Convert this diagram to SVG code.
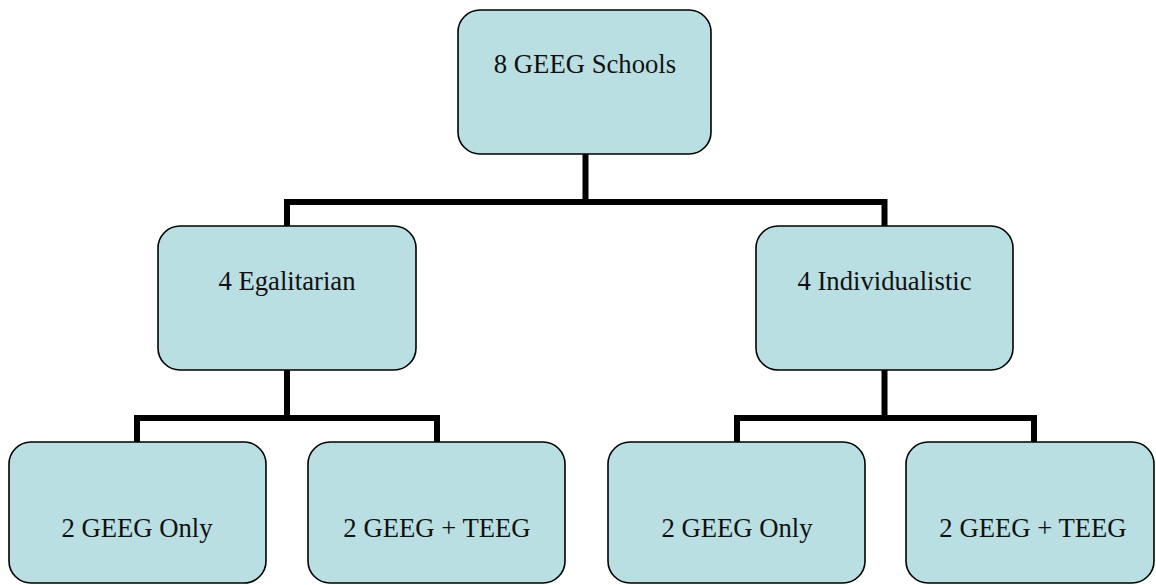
<svg xmlns="http://www.w3.org/2000/svg" width="1156" height="585" viewBox="0 0 1156 585">
<style>
.box{fill:#B9DFE3;stroke:#000;stroke-width:1.6}
.lbl{font-size:26.7px;fill:#111;text-anchor:middle}
.conn{fill:none;stroke:#000;stroke-width:6;stroke-linejoin:miter;stroke-linecap:square}
</style>
<rect width="1156" height="585" fill="#fff"/>
<g id="connectors">
<path class="conn" d="M585.5 155V202M287 226V202H884.5V226"/>
<path class="conn" d="M287 371V418M137 442V418H437V442"/>
<path class="conn" d="M884.5 371V418M737 442V418H1034V442"/>
</g>
<g font-family="Liberation Serif, Times New Roman, Noto Serif, FreeSerif, DejaVu Serif, serif">
<g id="n-top"><rect class="box" x="458" y="10" width="253" height="144" rx="22"/><text class="lbl" x="585" y="73">8 GEEG Schools</text></g>
<g id="n-egal"><rect class="box" x="158" y="226" width="258" height="144" rx="22"/><text class="lbl" x="287" y="290">4 Egalitarian</text></g>
<g id="n-indiv"><rect class="box" x="756" y="226" width="257" height="144" rx="22"/><text class="lbl" x="884.5" y="290">4 Individualistic</text></g>
<g id="n-b1"><rect class="box" x="9" y="442" width="257" height="141" rx="22"/><text class="lbl" x="137" y="537">2 GEEG Only</text></g>
<g id="n-b2"><rect class="box" x="308" y="442" width="257" height="141" rx="22"/><text class="lbl" x="437" y="537">2 GEEG + TEEG</text></g>
<g id="n-b3"><rect class="box" x="608" y="442" width="257" height="141" rx="22"/><text class="lbl" x="737" y="537">2 GEEG Only</text></g>
<g id="n-b4"><rect class="box" x="906" y="442" width="248" height="141" rx="22"/><text class="lbl" x="1033" y="537">2 GEEG + TEEG</text></g>
</g>
</svg>
